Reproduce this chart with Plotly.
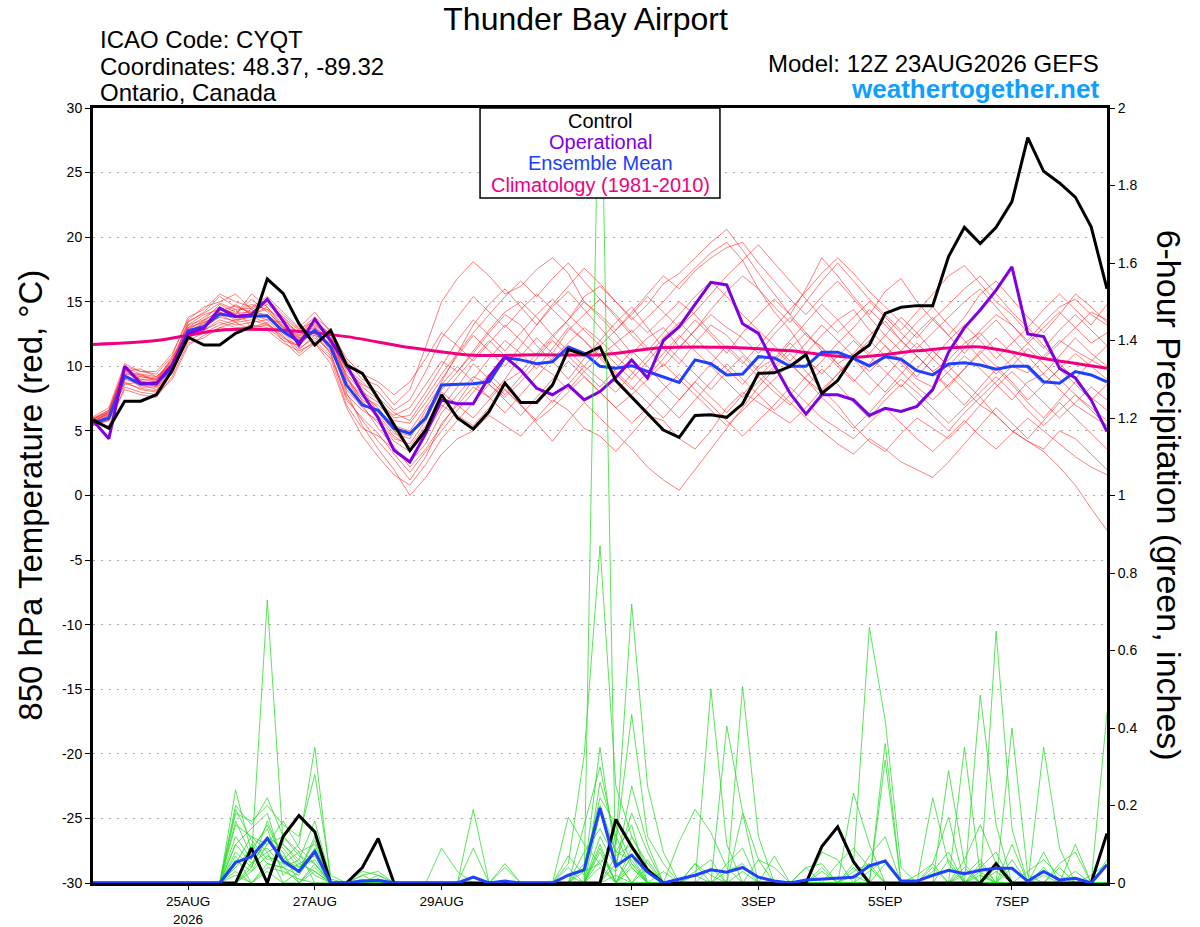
import plotly.graph_objects as go
import pandas as pd

# 6-hourly valid times, 12Z 23AUG2026 run
times = pd.date_range("2026-08-23 12:00", periods=65, freq="6h")
clim_times = times[::4]

tick_dates = ["2026-08-25", "2026-08-27", "2026-08-29", "2026-09-01",
              "2026-09-03", "2026-09-05", "2026-09-07"]
tick_labels = ["25AUG<br>2026", "27AUG", "29AUG", "1SEP", "3SEP", "5SEP", "7SEP"]

# 850 hPa temperature (C)
ctrl_temp = [5.85, 5.2, 7.3, 7.3, 7.8, 9.7, 12.25, 11.65, 11.65, 12.55, 13.07, 16.76, 15.65, 13.3, 11.65, 12.8,
             10.1, 9.46, 7.5, 5.46, 3.47, 5.07, 7.8, 6.0, 5.15, 6.5, 8.7, 7.2, 7.2, 8.55, 11.3, 10.9,
             11.5, 8.9, 7.65, 6.35, 5.07, 4.5, 6.2, 6.25, 6.05, 7.1, 9.46, 9.5, 10.0, 10.9, 7.9, 8.9,
             10.75, 11.65, 14.1, 14.57, 14.7, 14.7, 18.5, 20.76, 19.5, 20.76, 22.75, 27.7, 25.1, 24.2, 23.1, 20.8, 16.0]
oper_temp = [5.8, 4.4, 10.0, 8.7, 8.7, 10.1, 12.55, 12.94, 14.5, 13.85, 14.0, 15.2, 13.5, 11.65, 13.66, 12.0,
             10.1, 7.9, 6.0, 3.5, 2.6, 4.8, 7.4, 7.1, 7.1, 9.2, 10.75, 9.7, 8.3, 7.8, 8.55, 7.4,
             8.05, 9.15, 10.5, 9.1, 12.0, 13.07, 14.8, 16.5, 16.3, 13.3, 12.55, 10.1, 7.9, 6.3, 7.8, 7.8,
             7.4, 6.2, 6.75, 6.5, 6.9, 8.2, 11.1, 13.0, 14.36, 15.9, 17.7, 12.5, 12.3, 9.85, 9.1, 7.4, 4.95]
mean_temp = [5.6, 5.98, 9.25, 8.63, 8.63, 9.97, 12.76, 13.07, 14.05, 13.85, 13.9, 13.9, 12.7, 11.9, 12.8, 11.5,
             8.55, 7.0, 6.6, 5.2, 4.8, 6.0, 8.55, 8.6, 8.65, 8.8, 10.67, 10.5, 10.2, 10.35, 11.5, 11.0,
             10.0, 9.85, 10.05, 9.6, 9.2, 8.76, 10.5, 10.2, 9.33, 9.4, 10.75, 10.65, 10.0, 10.0, 11.1, 11.1,
             10.62, 10.03, 10.75, 10.55, 9.67, 9.33, 10.18, 10.28, 10.1, 9.77, 10.0, 10.0, 8.8, 8.7, 9.6, 9.33, 8.8]
clim_temp = [11.7, 12.0, 12.8, 12.8, 12.3, 11.45, 10.85, 10.9, 10.9, 11.45, 11.47, 11.2, 10.7, 11.2, 11.5, 10.6, 9.85]

# ensemble members, temperature
t_m01 = [5.9, 6.3, 9.5, 9.0, 8.8, 10.5, 13.0, 13.8, 14.6, 14.0, 15.2, 14.2, 13.1, 12.0, 13.4, 12.2,
         10.4, 9.0, 8.5, 7.0, 8.2, 11.5, 15.0, 16.8, 18.1, 17.0, 15.6, 16.2, 17.5, 18.4, 17.2, 15.0,
         13.8, 12.5, 11.0, 12.2, 13.0, 11.5, 12.8, 14.0, 13.0, 12.2, 11.0, 12.5, 13.8, 12.4, 11.5, 10.2,
         11.0, 12.4, 13.5, 12.0, 10.8, 9.6, 10.5, 11.8, 12.6, 11.2, 10.0, 9.5, 10.8, 12.0, 11.2, 10.5, 9.8]
t_m02 = [5.5, 5.8, 8.8, 8.2, 8.0, 9.6, 12.2, 12.8, 13.6, 13.2, 13.4, 13.6, 12.4, 11.0, 12.0, 10.8,
         7.6, 5.8, 4.2, 2.8, 1.2, 3.0, 5.6, 7.0, 8.4, 7.6, 9.0, 10.8, 12.2, 11.0, 12.8, 14.0,
         15.2, 14.0, 12.6, 13.8, 15.0, 16.4, 17.6, 18.8, 19.6, 18.2, 16.0, 14.2, 12.8, 11.0, 12.4, 13.6,
         14.4, 12.8, 11.6, 10.2, 9.0, 8.4, 9.6, 10.8, 9.8, 8.6, 7.4, 8.8, 9.4, 8.2, 7.0, 6.2, 5.4]
t_m03 = [6.0, 6.6, 9.9, 9.4, 9.2, 10.1, 13.4, 14.2, 15.4, 14.6, 14.2, 14.8, 13.8, 12.4, 13.0, 12.0,
         8.0, 5.4, 3.6, 2.0, 0.0, 1.4, 3.2, 4.4, 5.0, 6.2, 5.4, 4.6, 6.0, 7.4, 6.6, 5.2,
         4.6, 3.4, 4.8, 6.2, 5.8, 4.4, 3.6, 5.0, 6.8, 8.0, 7.2, 6.4, 5.6, 6.8, 8.2, 7.0,
         5.4, 4.2, 3.4, 4.8, 6.0, 5.2, 4.4, 5.6, 7.0, 6.2, 5.0, 4.2, 3.6, 5.0, 4.4, 3.2, 2.0]
t_m04 = [5.4, 6.0, 9.0, 8.6, 8.6, 10.4, 12.6, 13.4, 14.0, 14.4, 13.0, 13.4, 12.0, 11.6, 13.0, 11.6,
         9.4, 8.0, 7.2, 6.2, 6.8, 8.6, 10.4, 9.6, 11.0, 12.6, 14.0, 13.2, 11.6, 10.4, 9.0, 10.6,
         12.0, 13.4, 14.6, 13.0, 11.4, 10.2, 11.8, 13.2, 12.4, 11.0, 9.8, 10.6, 12.0, 13.4, 14.8, 13.6,
         12.2, 11.0, 12.4, 13.8, 12.6, 11.2, 10.0, 11.4, 12.8, 14.0, 13.2, 12.0, 13.4, 14.6, 15.2, 14.0, 13.2]
t_m05 = [5.8, 6.2, 9.2, 8.4, 8.4, 9.8, 12.0, 12.6, 13.2, 13.6, 14.0, 14.6, 13.2, 12.2, 12.6, 11.0,
         7.8, 6.6, 5.8, 4.4, 4.0, 5.8, 8.2, 9.6, 11.2, 12.8, 14.2, 15.0, 13.8, 12.4, 13.6, 15.4,
         16.2, 15.0, 13.6, 14.8, 16.4, 17.2, 18.4, 19.6, 20.6, 19.0, 17.2, 15.6, 14.0, 16.0, 18.4, 17.0,
         15.4, 14.0, 15.8, 16.8, 15.0, 13.6, 12.4, 13.8, 15.6, 16.6, 15.2, 13.8, 12.6, 14.0, 15.6, 14.6, 13.4]
t_m06 = [5.6, 5.4, 8.4, 8.0, 7.8, 9.0, 11.6, 12.4, 13.0, 12.8, 13.2, 13.0, 12.0, 10.8, 11.8, 10.6,
         7.0, 5.2, 4.6, 3.6, 2.6, 4.0, 6.4, 7.8, 9.2, 8.6, 7.6, 8.8, 10.2, 9.4, 8.2, 9.6,
         10.8, 9.6, 8.4, 7.2, 6.0, 7.4, 8.8, 7.6, 6.4, 7.8, 9.2, 8.0, 7.0, 8.4, 9.8, 8.6,
         7.2, 6.0, 7.4, 8.6, 7.4, 6.2, 5.0, 6.4, 7.6, 6.2, 5.0, 4.2, 3.4, 2.2, 0.8, -1.0, -2.7]
t_m07 = [6.1, 6.8, 10.2, 9.6, 9.4, 10.8, 13.8, 14.4, 15.6, 15.0, 14.6, 15.4, 14.2, 13.0, 14.2, 12.6,
         10.0, 8.2, 6.4, 5.0, 3.6, 5.2, 7.0, 6.2, 5.4, 6.8, 8.2, 7.0, 5.6, 4.2, 5.8, 7.2,
         6.0, 4.8, 3.6, 2.2, 1.2, 0.4, 2.0, 3.6, 5.2, 6.8, 8.4, 9.8, 11.0, 9.6, 8.2, 9.4,
         10.6, 9.2, 8.0, 9.4, 10.8, 9.6, 8.2, 7.0, 8.4, 9.8, 8.6, 7.2, 6.0, 7.4, 8.8, 7.6, 6.6]
t_m08 = [5.7, 6.4, 9.6, 9.2, 9.0, 10.2, 12.8, 13.2, 14.2, 13.8, 14.4, 13.8, 12.8, 12.2, 12.4, 11.8,
         9.0, 7.6, 7.0, 5.8, 5.6, 7.2, 9.0, 10.8, 12.4, 11.2, 10.0, 11.6, 13.2, 14.6, 15.8, 14.4,
         13.0, 11.6, 10.4, 9.2, 10.6, 12.2, 13.6, 12.4, 11.0, 12.6, 14.0, 15.2, 14.0, 12.6, 11.2, 10.0,
         8.8, 10.2, 11.6, 10.4, 9.2, 10.6, 12.0, 13.2, 12.0, 10.6, 11.8, 13.0, 11.6, 10.2, 9.0, 10.4, 11.6]
t_m09 = [5.5, 6.0, 8.6, 8.8, 8.4, 9.4, 12.4, 12.8, 13.4, 13.0, 13.0, 13.2, 12.6, 11.4, 12.2, 11.2,
         8.6, 7.2, 6.2, 4.8, 4.4, 6.6, 8.0, 7.0, 6.0, 7.4, 8.8, 9.6, 8.4, 7.2, 8.6, 10.0,
         11.4, 10.2, 9.0, 10.4, 11.8, 10.6, 9.4, 8.2, 9.6, 10.8, 9.6, 8.4, 7.2, 6.0, 5.0, 4.0,
         3.2, 4.4, 3.6, 2.6, 2.0, 1.4, 2.6, 4.0, 5.4, 6.8, 5.6, 4.4, 5.8, 7.2, 6.0, 4.8, 3.6]
t_m10 = [5.9, 6.6, 9.8, 9.0, 9.0, 10.6, 13.2, 13.6, 14.8, 14.2, 14.8, 14.4, 13.6, 12.6, 13.6, 12.4,
         9.6, 8.6, 8.0, 6.6, 7.4, 9.6, 12.2, 13.8, 15.4, 14.2, 13.0, 14.4, 15.6, 14.4, 13.2, 12.0,
         10.8, 11.8, 12.8, 11.4, 10.0, 11.4, 12.8, 14.4, 15.8, 17.0, 16.0, 14.6, 13.4, 15.0, 16.6, 18.0,
         16.6, 15.2, 14.0, 12.8, 14.2, 15.6, 17.0, 17.8, 16.4, 15.0, 14.0, 12.6, 11.4, 12.8, 14.0, 12.8, 11.6]
t_m11 = [5.6, 6.2, 9.4, 8.6, 8.2, 9.8, 12.8, 13.6, 14.2, 13.6, 13.8, 14.0, 12.8, 12.0, 12.6, 11.4,
         8.2, 6.8, 5.6, 4.2, 3.4, 4.8, 6.8, 8.4, 10.2, 9.0, 7.8, 9.2, 10.6, 12.0, 10.8, 9.6,
         8.4, 9.8, 11.2, 10.0, 8.6, 7.4, 8.8, 10.2, 11.6, 10.4, 9.2, 10.4, 11.8, 10.6, 9.4, 10.8,
         12.0, 10.8, 9.6, 8.4, 9.8, 11.2, 10.0, 8.8, 7.6, 8.8, 10.0, 11.4, 10.2, 9.0, 7.8, 6.8, 5.8]
t_m12 = [5.8, 6.0, 9.0, 9.2, 9.0, 10.0, 13.0, 13.4, 13.8, 14.8, 14.0, 13.6, 13.4, 12.6, 13.2, 12.2,
         9.2, 7.0, 5.2, 3.8, 2.2, 3.6, 5.4, 7.2, 9.0, 10.6, 12.0, 11.0, 9.8, 11.4, 13.0, 12.0,
         10.6, 9.4, 8.2, 9.6, 11.0, 12.4, 11.2, 10.0, 8.8, 7.6, 8.8, 10.0, 11.4, 12.6, 11.4, 10.2,
         9.0, 7.8, 9.2, 10.6, 11.8, 10.6, 9.4, 8.2, 7.0, 8.4, 9.6, 8.4, 7.2, 6.0, 7.2, 8.4, 7.4]
t_m13 = [5.7, 6.5, 10.0, 9.6, 9.6, 11.0, 13.6, 14.6, 15.0, 15.6, 14.4, 15.0, 13.8, 12.8, 13.8, 12.8,
         10.6, 9.4, 8.8, 7.8, 8.8, 10.6, 12.6, 11.6, 10.4, 11.8, 13.2, 12.0, 10.8, 12.2, 13.6, 15.0,
         14.0, 12.8, 14.2, 15.6, 17.0, 16.0, 17.4, 18.4, 19.2, 19.6, 18.0, 16.6, 15.2, 14.0, 15.4, 16.6,
         15.2, 13.8, 12.4, 11.2, 12.6, 13.8, 12.4, 11.0, 12.4, 13.6, 12.2, 10.8, 9.4, 10.8, 12.2, 11.0, 10.0]
t_m14 = [5.4, 5.8, 8.2, 7.8, 7.6, 9.2, 11.8, 12.2, 13.0, 13.4, 12.8, 12.8, 11.8, 11.2, 11.8, 10.2,
         6.8, 4.6, 3.0, 1.6, 0.8, 2.4, 4.4, 5.8, 7.2, 8.6, 7.4, 6.2, 7.6, 9.0, 10.4, 9.2,
         8.0, 6.8, 5.6, 6.8, 8.2, 9.4, 8.2, 7.0, 5.8, 4.6, 5.8, 7.0, 8.4, 7.2, 6.0, 5.2,
         4.4, 5.6, 6.8, 5.6, 4.4, 3.4, 4.6, 5.8, 4.6, 3.6, 4.8, 6.0, 5.0, 4.0, 3.0, 2.2, 1.6]
t_m15 = [6.0, 6.4, 9.6, 9.8, 9.2, 10.4, 13.2, 14.0, 14.4, 14.0, 15.6, 14.6, 13.0, 12.4, 13.6, 11.8,
         9.8, 8.8, 7.6, 6.4, 5.8, 7.6, 9.4, 11.0, 12.6, 14.0, 15.4, 16.6, 15.4, 16.8, 18.0, 16.6,
         15.2, 13.8, 12.4, 11.2, 12.6, 14.0, 15.4, 16.6, 15.4, 14.0, 12.8, 11.6, 10.4, 11.8, 13.2, 12.0,
         10.8, 9.6, 10.8, 12.0, 13.4, 14.6, 13.2, 12.0, 10.6, 9.4, 10.6, 11.8, 13.0, 14.2, 13.0, 11.8, 12.6]
t_m16 = [5.5, 6.0, 9.4, 9.4, 8.8, 10.0, 12.2, 13.0, 14.0, 13.4, 13.6, 13.2, 12.2, 11.6, 12.8, 11.2,
         8.8, 7.4, 6.6, 5.4, 5.0, 6.8, 8.6, 10.0, 8.8, 7.6, 6.4, 7.8, 9.2, 10.6, 11.8, 13.0,
         12.0, 10.8, 9.6, 8.4, 7.2, 6.0, 7.4, 8.8, 10.2, 9.0, 7.8, 6.6, 7.8, 9.2, 10.4, 11.8,
         13.0, 14.4, 13.2, 12.0, 10.8, 9.6, 8.4, 9.8, 11.2, 10.0, 8.8, 7.4, 8.6, 9.8, 8.6, 7.4, 8.6]
t_m17 = [5.7, 6.1, 9.1, 8.9, 8.5, 10.2, 12.9, 13.5, 14.4, 14.1, 14.2, 14.0, 13.0, 12.3, 13.1, 11.9,
         9.0, 7.8, 6.8, 5.0, 4.6, 6.2, 8.8, 11.0, 13.2, 14.8, 16.0, 14.6, 13.2, 14.8, 16.2, 17.6,
         16.4, 15.0, 13.8, 12.6, 13.8, 15.0, 14.0, 12.6, 11.4, 10.2, 11.6, 13.0, 14.4, 15.8, 17.2, 18.4,
         17.2, 15.8, 14.6, 13.4, 12.2, 13.6, 14.8, 16.0, 17.0, 15.6, 14.2, 13.0, 14.4, 15.6, 14.4, 13.2, 14.8]
t_m18 = [5.6, 5.9, 8.7, 8.3, 8.1, 9.5, 12.3, 13.1, 13.8, 13.5, 13.9, 13.3, 12.3, 11.3, 12.4, 11.0,
         7.4, 6.0, 4.8, 3.2, 1.8, 3.4, 5.0, 6.6, 8.0, 9.4, 8.2, 7.0, 5.8, 6.8, 8.0, 9.2,
         8.0, 6.8, 7.8, 9.0, 10.2, 9.0, 7.8, 6.6, 5.4, 6.6, 7.8, 9.0, 10.2, 9.0, 7.6, 6.4,
         5.2, 6.4, 7.8, 9.0, 8.0, 6.8, 5.6, 6.8, 8.0, 9.2, 8.0, 6.6, 5.4, 6.6, 7.8, 6.6, 5.4]
t_m19 = [5.9, 6.5, 9.7, 9.3, 9.1, 10.3, 13.5, 14.1, 14.9, 14.4, 14.5, 15.2, 14.0, 12.9, 13.5, 12.5,
         9.9, 8.4, 7.4, 6.0, 6.2, 8.0, 10.0, 12.0, 13.6, 12.4, 11.2, 12.6, 14.0, 15.2, 14.0, 12.8,
         11.6, 12.8, 14.0, 15.4, 14.2, 13.0, 14.2, 15.6, 17.0, 18.2, 19.4, 18.0, 16.6, 15.2, 13.8, 12.6,
         13.8, 15.0, 13.8, 12.6, 11.4, 12.6, 13.8, 15.0, 16.0, 14.6, 13.2, 11.8, 10.6, 11.8, 13.0, 14.2, 13.6]
t_m20 = [5.8, 6.3, 9.3, 8.5, 8.9, 10.7, 12.7, 13.3, 14.3, 14.7, 14.1, 14.4, 12.9, 12.1, 13.3, 12.1,
         9.3, 7.3, 6.0, 4.6, 3.8, 5.4, 7.6, 9.2, 10.6, 12.0, 10.8, 9.6, 11.0, 12.4, 11.2, 10.0,
         9.0, 8.0, 9.4, 10.8, 12.2, 13.4, 12.2, 11.0, 9.8, 8.6, 10.0, 11.4, 10.2, 9.0, 8.0, 9.4,
         10.8, 12.0, 10.8, 9.6, 8.4, 7.4, 8.6, 9.8, 11.0, 12.2, 11.0, 9.8, 8.6, 9.8, 11.0, 10.0, 9.0]

# 6-hour precipitation (inches)
ctrl_precip = [0, 0, 0, 0, 0, 0, 0, 0, 0, 0, 0.09, 0, 0.12, 0.174, 0.132, 0,
               0, 0.04, 0.115, 0, 0, 0, 0, 0, 0, 0, 0, 0, 0, 0, 0, 0,
               0, 0.164, 0.094, 0.034, 0, 0, 0, 0, 0, 0, 0, 0, 0, 0, 0.094, 0.145,
               0.055, 0, 0, 0, 0, 0, 0, 0, 0, 0.05, 0, 0, 0, 0, 0, 0, 0.128]
mean_precip = [0, 0, 0, 0, 0, 0, 0, 0, 0, 0.053, 0.068, 0.115, 0.057, 0.03, 0.081, 0,
               0, 0.005, 0.007, 0, 0, 0, 0, 0, 0.015, 0, 0.005, 0, 0, 0, 0.02, 0.034,
               0.194, 0.044, 0.072, 0.028, 0, 0.01, 0.02, 0.034, 0.028, 0.04, 0.015, 0.005, 0, 0.008, 0.01, 0.012,
               0.015, 0.044, 0.057, 0.005, 0.005, 0.02, 0.033, 0.024, 0.033, 0.038, 0.038, 0.005, 0.03, 0.008, 0.012, 0, 0.047]

# ensemble members, precipitation (time index: amount; all other steps dry)
p_m01 = {9: .05, 10: .12, 11: .08, 12: .10, 13: .06, 14: .16, 15: .01, 17: .02, 18: .03,
         32: 2.3, 34: .05, 38: .05, 48: .03, 49: .05, 56: .02, 60: .35, 61: .09}
p_m02 = {9: .20, 10: .15, 11: .22, 12: .12, 13: .08, 14: .10, 30: .05, 31: .33, 32: .87, 33: .25,
         34: .12, 35: .04, 41: .18, 45: .04, 50: .36, 53: .22, 54: .05}
p_m03 = {9: .12, 10: .06, 11: .73, 12: .10, 13: .05, 14: .03, 18: .02, 30: .17, 31: .10, 32: .05,
         33: .10, 34: .72, 35: .25, 36: .08, 46: .08, 47: .06, 55: .35, 56: .02, 62: .10}
p_m04 = {9: .24, 10: .08, 11: .15, 12: .06, 13: .10, 14: .35, 22: .09, 23: .03, 31: .15, 32: .30,
         33: .10, 34: .435, 35: .12, 36: .05, 39: .50, 40: .10, 57: .65, 58: .14, 64: .44}
p_m05 = {9: .18, 10: .16, 11: .20, 12: .15, 13: .12, 14: .28, 15: .02, 17: .03, 18: .02, 24: .19,
         31: .05, 32: .20, 33: .08, 34: .15, 41: .507, 42: .12, 48: .232, 49: .10, 56: .485, 57: .15}
p_m06 = {9: .15, 10: .12, 11: .10, 12: .16, 13: .09, 14: .05, 26: .05, 32: .12, 33: .04, 34: .25,
         35: .10, 40: .405, 41: .184, 42: .06, 48: .05, 49: .66, 50: .42, 51: .04, 54: .29, 55: .05,
         58: .40, 59: .02}
p_m07 = {9: .10, 10: .14, 11: .18, 12: .05, 13: .03, 14: .12, 24: .09, 30: .07, 31: .02, 32: .35,
         33: .06, 37: .107, 38: .19, 39: .13, 40: .04, 50: .317, 53: .05, 60: .08, 64: .06}
p_m08 = {9: .08, 10: .04, 11: .12, 12: .09, 13: .04, 14: .06, 26: .04, 33: .05, 34: .18, 35: .08,
         38: .03, 39: .06, 43: .07, 47: .05, 48: .09, 49: .04, 55: .06, 56: .15, 57: .05, 61: .05, 62: .08}
p_m09 = {10: .10, 11: .05, 12: .04, 13: .02, 14: .08, 18: .01, 32: .18, 33: .08, 34: .06, 40: .05,
         41: .09, 45: .04, 46: .05, 52: .02, 53: .05, 54: .17, 58: .06, 62: .03}
p_m10 = {9: .16, 10: .07, 11: .09, 12: .04, 13: .06, 14: .02, 31: .04, 32: .22, 33: .15, 34: .05,
         42: .06, 43: .04, 49: .07, 50: .12, 56: .04, 57: .08, 60: .02}
p_m11 = {9: .19, 10: .11, 11: .06, 12: .07, 13: .03, 14: .09, 30: .02, 32: .10, 34: .09, 35: .03,
         38: .05, 39: .02, 48: .04, 55: .04, 59: .03, 60: .06, 61: .02}
p_m12 = {9: .04, 10: .09, 11: .14, 12: .02, 13: .05, 14: .07, 17: .02, 32: .06, 33: .03, 34: .12,
         35: .05, 40: .03, 41: .05, 50: .05, 53: .03, 54: .08, 58: .10, 63: .02, 64: .05}
p_m13 = {10: .05, 11: .11, 12: .08, 14: .04, 32: .08, 34: .04, 46: .03, 55: .02, 56: .06}
p_m14 = {9: .07, 11: .04, 12: .03, 13: .01, 33: .02, 35: .06, 39: .04, 57: .03}
p_m15 = {10: .03, 11: .07, 12: .05, 13: .08, 32: .04, 36: .03, 48: .02, 56: .03}
p_m16 = {9: .02, 11: .03, 14: .05, 31: .03, 32: .05, 61: .04}
p_m17 = {9: .06, 10: .03, 11: .10, 12: .12, 13: .07, 14: .05, 31: .08, 32: .14, 33: .06, 35: .04,
         49: .03, 50: .06, 57: .04}
p_m18 = {10: .04, 11: .16, 12: .06, 13: .04, 14: .08, 30: .04, 32: .09, 34: .07, 38: .02, 53: .04, 56: .05}
p_m19 = {9: .10, 10: .05, 11: .08, 13: .03, 14: .11, 17: .01, 32: .26, 33: .12, 34: .04, 46: .04,
         54: .06, 58: .04}
p_m20 = {9: .03, 11: .05, 12: .04, 14: .03, 33: .07, 34: .10, 41: .03, 55: .03, 60: .04}

temp_members = [t_m01, t_m02, t_m03, t_m04, t_m05, t_m06, t_m07, t_m08, t_m09, t_m10,
                t_m11, t_m12, t_m13, t_m14, t_m15, t_m16, t_m17, t_m18, t_m19, t_m20]
precip_members = [p_m01, p_m02, p_m03, p_m04, p_m05, p_m06, p_m07, p_m08, p_m09, p_m10,
                  p_m11, p_m12, p_m13, p_m14, p_m15, p_m16, p_m17, p_m18, p_m19, p_m20]

FONT = "Liberation Sans, Arial, Helvetica, sans-serif"
RED = "rgba(255,40,40,0.75)"
GREEN = "rgba(40,220,40,0.85)"
PURPLE = "#8000e0"
BLUE = "#2040ff"
PINK = "#f0007f"

fig = go.Figure()

for m in temp_members:
    fig.add_trace(go.Scatter(x=times, y=m, mode="lines", line=dict(color=RED, width=0.8),
                             hoverinfo="skip", showlegend=False))

fig.add_trace(go.Scatter(x=clim_times, y=clim_temp, mode="lines",
                         line=dict(color=PINK, width=3, shape="spline", smoothing=0.8), showlegend=False))
fig.add_trace(go.Scatter(x=times, y=mean_temp, mode="lines", line=dict(color=BLUE, width=3), showlegend=False))
fig.add_trace(go.Scatter(x=times, y=oper_temp, mode="lines", line=dict(color=PURPLE, width=3), showlegend=False))
fig.add_trace(go.Scatter(x=times, y=ctrl_temp, mode="lines", line=dict(color="black", width=3), showlegend=False))

for p in precip_members:
    vals = [p.get(i, 0.0) for i in range(len(times))]
    fig.add_trace(go.Scatter(x=times, y=vals, mode="lines", yaxis="y2",
                             line=dict(color=GREEN, width=0.9), hoverinfo="skip", showlegend=False))

fig.add_trace(go.Scatter(x=times, y=ctrl_precip, mode="lines", yaxis="y2",
                         line=dict(color="black", width=3), showlegend=False))
fig.add_trace(go.Scatter(x=times, y=mean_precip, mode="lines", yaxis="y2",
                         line=dict(color=BLUE, width=3), showlegend=False))

temp_ticks = list(range(-30, 31, 5))

fig.update_layout(
    width=1200, height=927,
    margin=dict(l=93, r=93, t=108, b=44),
    paper_bgcolor="white", plot_bgcolor="white",
    font=dict(family=FONT, color="black"),
    showlegend=False,
    title=dict(text="Thunder Bay Airport", x=0.488, xanchor="center", y=0.9795, yanchor="middle",
               font=dict(size=32, family=FONT, color="black")),
    xaxis=dict(type="date", range=[times[0], times[-1]], tickvals=tick_dates, ticktext=tick_labels,
               automargin=False, showgrid=False, showline=True, linewidth=3, linecolor="black", mirror=True,
               ticks="outside", ticklen=4, tickwidth=1, tickcolor="black",
               tickfont=dict(size=13.5, family=FONT), zeroline=False),
    yaxis=dict(range=[-30, 30], tickvals=temp_ticks, ticktext=[str(v) for v in temp_ticks],
               automargin=False, showgrid=True, gridcolor="#a8a8a8", griddash="2px,6px", gridwidth=1,
               showline=True, linewidth=3, linecolor="black",
               ticks="outside", ticklen=5, tickwidth=1, tickcolor="black",
               tickfont=dict(size=14, family=FONT), zeroline=False),
    yaxis2=dict(range=[0, 2], dtick=0.2, overlaying="y", side="right", anchor="x",
                automargin=False, showgrid=False, showline=True, linewidth=3, linecolor="black",
                ticks="outside", ticklen=5, tickwidth=1, tickcolor="black",
                tickfont=dict(size=14, family=FONT), zeroline=False),
)

# legend box drawn above the traces
fig.add_shape(type="rect", xref="paper", yref="paper", x0=0.3817, x1=0.6183, y0=0.8839, y1=1.0,
              fillcolor="white", line=dict(color="black", width=1.5), layer="above")
legend_rows = [("Control", "black", 0.9832),
               ("Operational", PURPLE, 0.9561),
               ("Ensemble Mean", BLUE, 0.9290),
               ("Climatology (1981-2010)", PINK, 0.9006)]
for txt, col, yp in legend_rows:
    fig.add_annotation(text=txt, xref="paper", yref="paper", x=0.5, y=yp, xanchor="center",
                       yanchor="middle", showarrow=False, font=dict(size=20, family=FONT, color=col))

header = [
    ("ICAO Code: CYQT", 0.005, 1.089, "left"),
    ("Coordinates: 48.37, -89.32", 0.005, 1.054, "left"),
    ("Ontario, Canada", 0.005, 1.020, "left"),
    ("Model: 12Z 23AUG2026 GEFS", 0.994, 1.058, "right"),
]
for txt, xp, yp, anc in header:
    fig.add_annotation(text=txt, xref="paper", yref="paper", x=xp, y=yp, xanchor=anc,
                       yanchor="middle", showarrow=False, font=dict(size=24, family=FONT))
fig.add_annotation(text="<b>weathertogether.net</b>", xref="paper", yref="paper", x=0.994, y=1.024,
                   xanchor="right", yanchor="middle", showarrow=False,
                   font=dict(size=26, family=FONT, color="#0fa0ff"))

fig.add_annotation(text="850 hPa Temperature (red, °C)", xref="paper", yref="paper",
                   x=-0.062, y=0.5, xanchor="center", yanchor="middle", textangle=-90,
                   showarrow=False, font=dict(size=33, family=FONT))
fig.add_annotation(text="6-hour Precipitation (green, inches)", xref="paper", yref="paper",
                   x=1.062, y=0.5, xanchor="center", yanchor="middle", textangle=90,
                   showarrow=False, font=dict(size=34, family=FONT))

# drop the browser's default 8px body margin so the figure fills the window
fig.write_html("out.html", config={"displayModeBar": False},
               post_script="document.body.style.margin = '0px';")
